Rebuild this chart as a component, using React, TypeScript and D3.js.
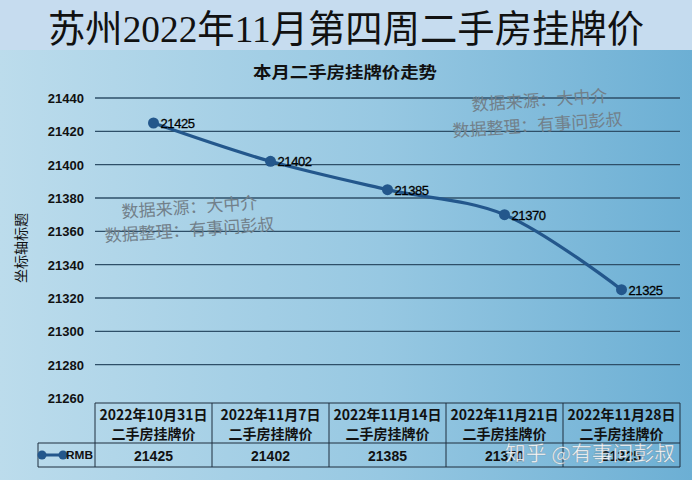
import { useEffect, useRef } from "react";
import * as d3 from "d3";

const dates = ["2022年10月31日", "2022年11月7日", "2022年11月14日", "2022年11月21日", "2022年11月28日"];
const seriesName = "RMB";
const prices = [21425, 21402, 21385, 21370, 21325];
const yTicks = [21260, 21280, 21300, 21320, 21340, 21360, 21380, 21400, 21420, 21440];

const W = 692;
const H = 480;
const CJK = "'Noto Sans CJK SC', 'Liberation Sans', Arial, sans-serif";
const NUM = "'Liberation Sans', Arial, sans-serif";

export default function App() {
  const ref = useRef<SVGSVGElement>(null);

  useEffect(() => {
    if (!ref.current) return;
    const svg = d3.select(ref.current);
    svg.selectAll("*").remove();

    const margin = { left: 95, right: 12, top: 98, bottom: 82 };
    const x = d3
      .scaleBand<string>()
      .domain(dates)
      .range([margin.left, W - margin.right]);
    const y = d3
      .scaleLinear()
      .domain([21260, 21440])
      .range([H - margin.bottom, margin.top]);

    const defs = svg.append("defs");
    const grad = defs.append("linearGradient").attr("id", "bg").attr("x1", "0").attr("x2", "1").attr("y1", "0").attr("y2", "0");
    grad.append("stop").attr("offset", "0").attr("stop-color", "#bcdcec");
    grad.append("stop").attr("offset", "0.55").attr("stop-color", "#97c8e2");
    grad.append("stop").attr("offset", "1").attr("stop-color", "#6cafd4");

    // backgrounds
    svg.append("rect").attr("width", W).attr("height", H).attr("fill", "url(#bg)");
    svg.append("rect").attr("width", W).attr("height", 50).attr("fill", "#c6dcef");

    // title
    svg
      .append("text")
      .attr("x", W / 2)
      .attr("y", 42)
      .attr("text-anchor", "middle")
      .attr("font-family", "'Liberation Serif', 'Noto Sans CJK SC', serif")
      .attr("font-size", 38)
      .attr("fill", "#111")
      .attr("textLength", 596)
      .attr("lengthAdjust", "spacingAndGlyphs")
      .text("苏州2022年11月第四周二手房挂牌价");

    svg
      .append("text")
      .attr("x", 345)
      .attr("y", 78)
      .attr("text-anchor", "middle")
      .attr("font-family", CJK)
      .attr("font-weight", "bold")
      .attr("font-size", 16)
      .attr("fill", "#111")
      .attr("textLength", 184)
      .attr("lengthAdjust", "spacingAndGlyphs")
      .text("本月二手房挂牌价走势");

    // gridlines + y ticks
    const x0 = margin.left;
    const x1 = W - margin.right;
    svg
      .append("g")
      .selectAll("line")
      .data(yTicks.slice(1))
      .join("line")
      .attr("x1", x0)
      .attr("x2", x1)
      .attr("y1", (d) => y(d))
      .attr("y2", (d) => y(d))
      .attr("stroke", "#2e4f68")
      .attr("stroke-width", 1.3);

    svg
      .append("g")
      .selectAll("text")
      .data(yTicks)
      .join("text")
      .attr("x", 84)
      .attr("y", (d) => y(d) + 5)
      .attr("text-anchor", "end")
      .attr("font-family", NUM)
      .attr("font-weight", "bold")
      .attr("font-size", 13)
      .attr("fill", "#111")
      .text((d) => d);

    svg
      .append("text")
      .attr("transform", `translate(26,${(y(21440) + y(21260)) / 2}) rotate(-90)`)
      .attr("text-anchor", "middle")
      .attr("font-family", CJK)
      .attr("font-size", 14)
      .attr("fill", "#111")
      .text("坐标轴标题");

    // watermarks
    const marks = [
      { tx: 122, ty: 218, text: "数据来源：大中介" },
      { tx: 105, ty: 242, text: "数据整理：有事问彭叔" },
      { tx: 472, ty: 111, text: "数据来源：大中介" },
      { tx: 453, ty: 137, text: "数据整理：有事问彭叔" },
    ];
    svg
      .append("g")
      .selectAll("text")
      .data(marks)
      .join("text")
      .attr("transform", (d) => `translate(${d.tx},${d.ty}) rotate(-4)`)
      .attr("font-family", "'Noto Sans CJK SC', serif")
      .attr("font-size", 17)
      .attr("fill", "#72808a")
      .text((d) => d.text);

    // line
    const cx = (i: number) => (x(dates[i]) ?? 0) + x.bandwidth() / 2;
    const line = d3
      .line<number>()
      .x((_, i) => cx(i))
      .y((d) => y(d))
      .curve(d3.curveCatmullRom.alpha(0.5));
    svg
      .append("path")
      .attr("d", line(prices))
      .attr("fill", "none")
      .attr("stroke", "#23578c")
      .attr("stroke-width", 3.2);

    svg
      .append("g")
      .selectAll("circle")
      .data(prices)
      .join("circle")
      .attr("cx", (_, i) => cx(i))
      .attr("cy", (d) => y(d))
      .attr("r", 5.5)
      .attr("fill", "#23578c");

    svg
      .append("g")
      .selectAll("text")
      .data(prices)
      .join("text")
      .attr("x", (_, i) => cx(i) + 7)
      .attr("y", (d) => y(d) + 5)
      .attr("font-family", NUM)
      .attr("font-size", 13)
      .attr("fill", "#000")
      .attr("stroke", "#000")
      .attr("stroke-width", 0.3)
      .attr("letter-spacing", -0.4)
      .text((d) => d);

    // data table
    const tTop = 403;
    const tMid = 443;
    const tBot = 467;
    const border = "#1e2f3e";
    const tg = svg.append("g");
    tg.append("line").attr("x1", x0).attr("x2", x1).attr("y1", tTop).attr("y2", tTop).attr("stroke", border);
    tg.append("line").attr("x1", 38).attr("x2", x1).attr("y1", tMid).attr("y2", tMid).attr("stroke", border);
    tg.append("line").attr("x1", 38).attr("x2", x1).attr("y1", tBot).attr("y2", tBot).attr("stroke", border);
    tg.append("line").attr("x1", 38).attr("x2", 38).attr("y1", tMid).attr("y2", tBot).attr("stroke", border);
    tg.selectAll(".vline")
      .data([...dates.map((d) => x(d) ?? 0), x1])
      .join("line")
      .attr("class", "vline")
      .attr("x1", (d) => d)
      .attr("x2", (d) => d)
      .attr("y1", tTop)
      .attr("y2", tBot)
      .attr("stroke", border);

    const hdr = tg
      .selectAll(".hdr")
      .data(dates)
      .join("text")
      .attr("class", "hdr")
      .attr("text-anchor", "middle")
      .attr("font-family", CJK)
      .attr("font-weight", "bold")
      .attr("font-size", 14)
      .attr("fill", "#111");
    hdr
      .append("tspan")
      .attr("x", (d) => (x(d) ?? 0) + x.bandwidth() / 2)
      .attr("y", tTop + 17)
      .text((d) => d);
    hdr
      .append("tspan")
      .attr("x", (d) => (x(d) ?? 0) + x.bandwidth() / 2)
      .attr("y", tTop + 36)
      .text("二手房挂牌价");

    tg.selectAll(".val")
      .data(prices)
      .join("text")
      .attr("class", "val")
      .attr("x", (_, i) => cx(i))
      .attr("y", tMid + 18)
      .attr("text-anchor", "middle")
      .attr("font-family", NUM)
      .attr("font-weight", "bold")
      .attr("font-size", 14)
      .attr("fill", "#111")
      .text((d) => d);

    // legend key
    const ly = (tMid + tBot) / 2;
    tg.append("line").attr("x1", 42).attr("x2", 63).attr("y1", ly).attr("y2", ly).attr("stroke", "#23578c").attr("stroke-width", 3);
    tg.append("circle").attr("cx", 42).attr("cy", ly).attr("r", 4.5).attr("fill", "#23578c");
    tg.append("circle").attr("cx", 63).attr("cy", ly).attr("r", 4.5).attr("fill", "#23578c");
    tg.append("text")
      .attr("x", 93)
      .attr("y", ly + 4)
      .attr("text-anchor", "end")
      .attr("font-family", NUM)
      .attr("font-weight", "bold")
      .attr("font-size", 11)
      .attr("fill", "#111")
      .attr("textLength", 27)
      .attr("lengthAdjust", "spacingAndGlyphs")
      .text(seriesName);

    // zhihu watermark
    svg
      .append("text")
      .attr("x", 505)
      .attr("y", 461)
      .attr("font-family", CJK)
      .attr("font-size", 20)
      .attr("fill", "#ffffff")
      .attr("fill-opacity", 0.95)
      .attr("stroke", "#5f7888")
      .attr("stroke-width", 0.6)
      .attr("stroke-opacity", 0.5)
      .attr("textLength", 170)
      .attr("lengthAdjust", "spacingAndGlyphs")
      .text("知乎 @有事问彭叔");
  }, []);

  return (
    <div style={{ position: "absolute", left: 0, top: 0 }}>
      <svg ref={ref} width={W} height={H} style={{ display: "block" }} />
    </div>
  );
}
